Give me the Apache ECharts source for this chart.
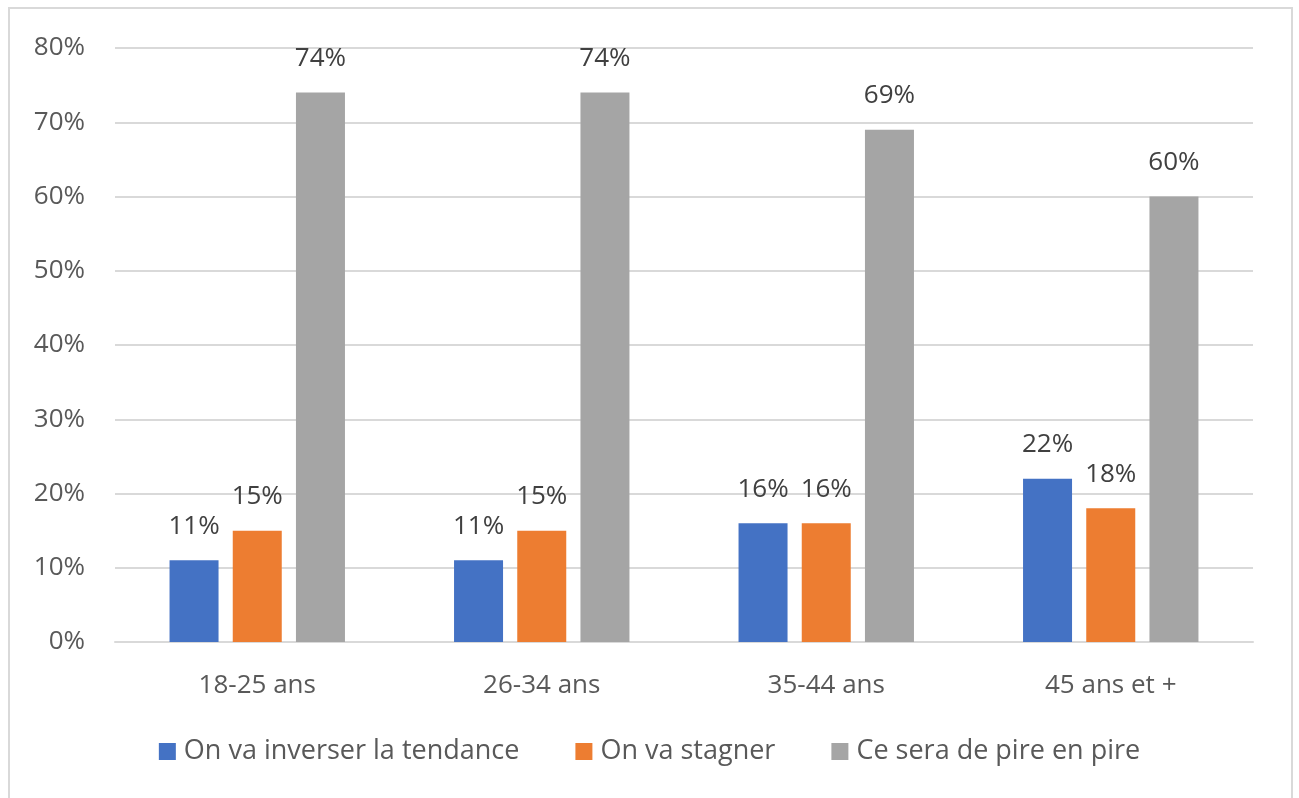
<!DOCTYPE html>
<html>
<head>
<meta charset="utf-8">
<script src="https://cdn.jsdelivr.net/npm/echarts@6/dist/echarts.min.js"></script>
<style>
  html, body { margin: 0; padding: 0; background: #fff; }
  #chart { width: 1299px; height: 798px; }
</style>
</head>
<body>
<div id="chart"></div>
<script>
// tranches d'age
const categories = ['18-25 ans', '26-34 ans', '35-44 ans', '45 ans et +']
const seriesNames = ['On va inverser la tendance', 'On va stagner', 'Ce sera de pire en pire']
const inverser = [11, 11, 16, 22]
const stagner = [15, 15, 16, 18]
const pire = [74, 74, 69, 60]
const yTicks = [0, 10, 20, 30, 40, 50, 60, 70, 80]

const colors = ['#4472C4', '#ED7D31', '#A5A5A5']
const font = 'Open Sans'
const textColor = '#595959'

const chart = echarts.init(document.getElementById('chart'))

function makeSeries(name, data) {
  return {
    name: name,
    type: 'bar',
    data: data,
    barWidth: 49,
    barGap: '29%',
    label: {
      show: true,
      position: 'top',
      distance: 21,
      formatter: '{c}%',
      fontFamily: font,
      fontSize: 26,
      color: '#404040'
    }
  }
}

const option = {
  animation: false,
  color: colors,
  backgroundColor: '#ffffff',
  graphic: [{
    type: 'rect',
    shape: { x: 9, y: 8, width: 1283, height: 800 },
    style: { fill: 'none', stroke: '#D9D9D9', lineWidth: 2 }
  }],
  grid: { left: 115, right: 46, top: 48, bottom: 156 },
  legend: {
    data: seriesNames,
    bottom: 28,
    left: 'center',
    icon: 'rect',
    itemWidth: 17,
    itemHeight: 17,
    itemGap: 56,
    textStyle: { fontFamily: font, fontSize: 27, color: textColor, padding: [0, 0, 0, 3] }
  },
  xAxis: {
    type: 'category',
    data: categories,
    axisLine: { lineStyle: { color: '#D9D9D9', width: 2 } },
    axisTick: { show: false },
    axisLabel: { fontFamily: font, fontSize: 26, color: textColor, margin: 31 }
  },
  yAxis: {
    type: 'value',
    min: yTicks[0],
    max: yTicks[yTicks.length - 1],
    interval: 10,
    axisLine: { show: false },
    axisTick: { show: false },
    splitLine: { lineStyle: { color: '#D9D9D9', width: 2 } },
    axisLabel: { fontFamily: font, fontSize: 26, color: textColor, margin: 30, formatter: '{value}%' }
  },
  series: [
    makeSeries(seriesNames[0], inverser),
    makeSeries(seriesNames[1], stagner),
    makeSeries(seriesNames[2], pire)
  ]
}

chart.setOption(option)
</script>
</body>
</html>
